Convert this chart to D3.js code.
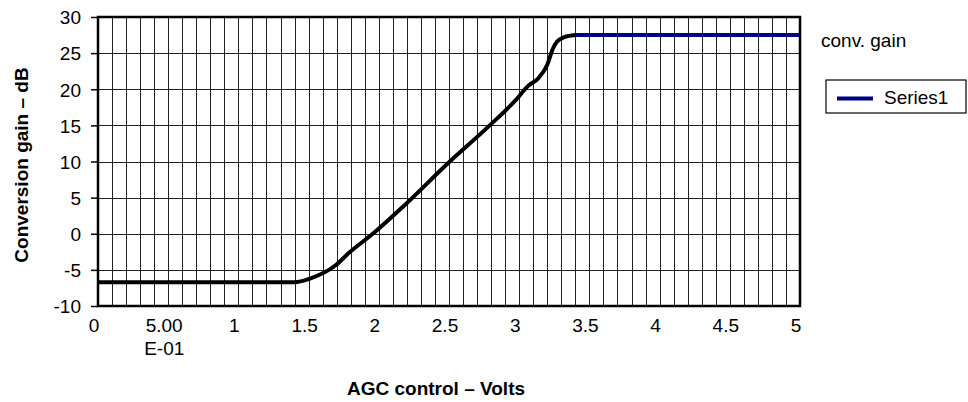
<!DOCTYPE html>
<html>
<head>
<meta charset="utf-8">
<script src="https://cdn.jsdelivr.net/npm/d3@7"></script>
<style>
  body { margin: 0; background: #fff; }
  svg { display: block; font-family: "Liberation Sans", Arial, sans-serif; }
</style>
</head>
<body>
<svg></svg>
<script>
var width = 968;
var height = 402;

// black gain curve (AGC volts, dB)
var curveVolts = [0, 1.40, 1.51, 1.69, 1.79, 1.97, 2.17, 2.50, 2.79, 2.98, 3.06, 3.14, 3.20, 3.24, 3.27, 3.32, 3.40];
var curveGain  = [-6.7, -6.7, -6.2, -4.4, -2.6, 0.2, 3.7, 9.9, 15.0, 18.6, 20.4, 21.6, 23.4, 25.6, 26.6, 27.2, 27.5];

// Series1 (blue)
var seriesVolts = [3.40, 5];
var seriesGain  = [27.5, 27.5];

var xTickValues = [0, 0.5, 1, 1.5, 2, 2.5, 3, 3.5, 4, 4.5, 5];
var xTickLabels = [["0"], ["5.00", "E-01"], ["1"], ["1.5"], ["2"], ["2.5"], ["3"], ["3.5"], ["4"], ["4.5"], ["5"]];
var yTickValues = [-10, -5, 0, 5, 10, 15, 20, 25, 30];

var margin = { left: 98, right: 168, top: 17, bottom: 96 };
var plot_w = width - margin.left - margin.right;
var plot_h = height - margin.top - margin.bottom;

var x = d3.scaleLinear().domain([0, 5]).range([0, plot_w]);
var y = d3.scaleLinear().domain([-10, 30]).range([plot_h, 0]);

var svg = d3.select("svg")
    .attr("width", width)
    .attr("height", height);

var g = svg.append("g")
    .attr("transform", "translate(" + margin.left + "," + margin.top + ")");

// gridlines: every 0.1 V and every 5 dB
g.append("g").selectAll("line")
    .data(x.ticks(50))
  .enter().append("line")
    .attr("x1", function(d) { return Math.round(x(d)) + 0.5; })
    .attr("x2", function(d) { return Math.round(x(d)) + 0.5; })
    .attr("y1", 0)
    .attr("y2", plot_h)
    .attr("stroke", "#222")
    .attr("stroke-width", 1);

g.append("g").selectAll("line")
    .data(yTickValues)
  .enter().append("line")
    .attr("x1", 0)
    .attr("x2", plot_w)
    .attr("y1", function(d) { return Math.round(y(d)) + 0.5; })
    .attr("y2", function(d) { return Math.round(y(d)) + 0.5; })
    .attr("stroke", "#222")
    .attr("stroke-width", 1);

// y axis
var yAxis = g.append("g")
    .call(d3.axisLeft(y).tickValues(yTickValues).tickSize(7).tickPadding(10).tickFormat(function(d) { return String(d); }));
yAxis.select(".domain").remove();
yAxis.selectAll("line").attr("stroke", "#000").attr("stroke-width", 1.5);
yAxis.selectAll("text")
    .attr("font-size", "19px")
    .attr("font-family", "Liberation Sans, Arial, sans-serif")
    .attr("fill", "#000")
    .attr("dy", "0.36em");

// x tick labels
var xl = g.append("g").selectAll("text")
    .data(xTickValues)
  .enter().append("text")
    .attr("x", function(d) { return x(d) - 4; })
    .attr("y", plot_h + 26)
    .attr("text-anchor", "middle")
    .attr("font-size", "19px")
    .attr("fill", "#000");

xl.each(function(d, i) {
    var t = d3.select(this);
    xTickLabels[i].forEach(function(s, j) {
        t.append("tspan")
            .attr("x", x(d) - 4)
            .attr("dy", j == 0 ? 0 : 23)
            .text(s);
    });
});

// curves
var line = d3.line()
    .x(function(d) { return x(d[0]); })
    .y(function(d) { return y(d[1]); })
    .curve(d3.curveMonotoneX);

g.append("path")
    .datum(curveVolts.map(function(v, i) { return [v, curveGain[i]]; }))
    .attr("d", line)
    .attr("fill", "none")
    .attr("stroke", "#000")
    .attr("stroke-width", 4)
    .attr("stroke-linejoin", "round");

g.append("path")
    .datum(seriesVolts.map(function(v, i) { return [v, seriesGain[i]]; }))
    .attr("d", line)
    .attr("fill", "none")
    .attr("stroke", "#000080")
    .attr("stroke-width", 4);

// plot frame
g.append("rect")
    .attr("x", 0)
    .attr("y", 0)
    .attr("width", plot_w)
    .attr("height", plot_h)
    .attr("fill", "none")
    .attr("stroke", "#000")
    .attr("stroke-width", 2.5);

// axis titles
svg.append("text")
    .attr("x", margin.left + plot_w / 2 - 13)
    .attr("y", 395)
    .attr("text-anchor", "middle")
    .attr("font-size", "19px")
    .attr("font-weight", "bold")
    .text("AGC control \u2013 Volts");

svg.append("text")
    .attr("transform", "translate(28," + 165 + ") rotate(-90)")
    .attr("text-anchor", "middle")
    .attr("font-size", "19px")
    .attr("font-weight", "bold")
    .text("Conversion gain \u2013 dB");

// series label + legend
svg.append("text")
    .attr("x", 821)
    .attr("y", 47)
    .attr("font-size", "19px")
    .text("conv. gain");

var legend = svg.append("g").attr("transform", "translate(826,80)");
legend.append("rect")
    .attr("width", 140)
    .attr("height", 33)
    .attr("fill", "#fff")
    .attr("stroke", "#000")
    .attr("stroke-width", 1.2);
legend.append("line")
    .attr("x1", 11)
    .attr("x2", 47)
    .attr("y1", 18.5)
    .attr("y2", 18.5)
    .attr("stroke", "#000080")
    .attr("stroke-width", 4);
legend.append("text")
    .attr("x", 58)
    .attr("y", 24)
    .attr("font-size", "19px")
    .text("Series1");
</script>
</body>
</html>
